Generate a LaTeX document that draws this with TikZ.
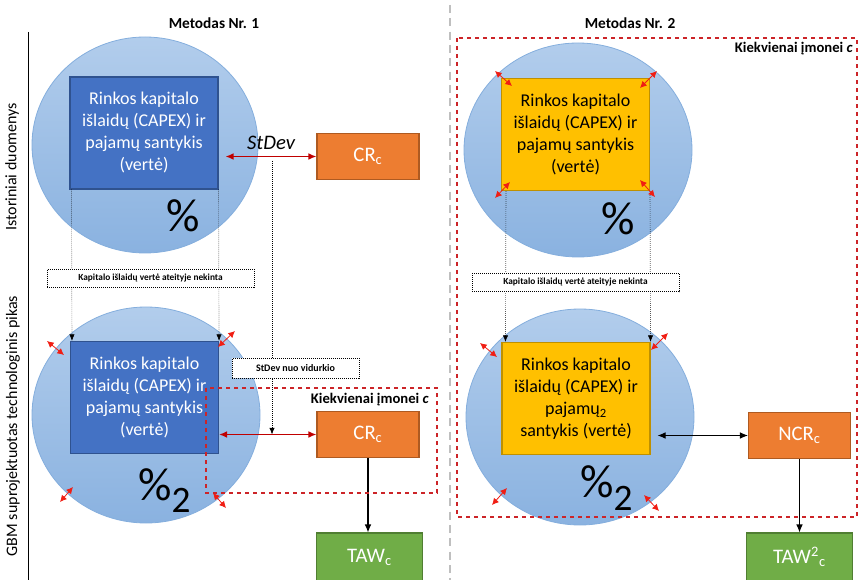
\documentclass[tikz,border=0pt]{standalone}
\usepackage{fontspec}
\setmainfont{Carlito}
\usepackage{tikz}
\usetikzlibrary{shapes,shapes.geometric,calc,arrows.meta}

\definecolor{bubbletop}{RGB}{178,205,236}
\definecolor{bubblebot}{RGB}{138,178,224}
\definecolor{bubbleedge}{RGB}{132,174,221}
\definecolor{blueface}{RGB}{68,114,196}
\definecolor{blueedge}{RGB}{47,82,143}
\definecolor{goldface}{RGB}{255,192,0}
\definecolor{goldedge}{RGB}{191,144,0}
\definecolor{orangeface}{RGB}{237,125,49}
\definecolor{orangeedge}{RGB}{174,90,33}
\definecolor{greenface}{RGB}{112,173,71}
\definecolor{greenedge}{RGB}{80,126,50}
\definecolor{dashred}{RGB}{204,36,40}
\definecolor{darkred}{RGB}{192,0,0}
\definecolor{growred}{RGB}{240,30,20}

\begin{document}
\begin{tikzpicture}[x=0.75pt,y=-0.75pt]
				\tikzstyle{bubble}=[draw=bubbleedge, top color=bubbletop, bottom color=bubblebot, line width=0.6pt]
				\tikzstyle{capex}=[rectangle, draw=blueedge, fill=blueface, text=white, line width=0.8pt, minimum width=111pt, minimum height=84pt, inner sep=0pt, align=center, font=\fontsize{13.5}{16.5}\selectfont]
				\tikzstyle{capexgold}=[capex, draw=goldedge, fill=goldface, text=black]
				\tikzstyle{crbox}=[rectangle, draw=orangeedge, fill=orangeface, text=white, line width=0.8pt, minimum width=76.5pt, minimum height=35pt, font=\fontsize{15.5}{18}\selectfont]
				\tikzstyle{tawbox}=[crbox, draw=greenedge, fill=greenface, minimum width=79pt, minimum height=36pt]
				\tikzstyle{notebox}=[rectangle, draw, densely dotted, fill=white, line width=0.5pt, inner sep=0pt, font=\bfseries\fontsize{7}{8}\selectfont]
				\tikzstyle{pct}=[anchor=base west, inner sep=0pt, font=\fontsize{35}{35}\selectfont]
				\tikzstyle{heading}=[font=\bfseries\fontsize{11.5}{14}\selectfont]
				\tikzstyle{sidelabel}=[rotate=90, font=\fontsize{12}{14}\selectfont]
				\tikzstyle{eachfirm}=[anchor=east, inner sep=0pt, font=\bfseries\fontsize{11}{13}\selectfont]
				\tikzstyle{reddash}=[draw=dashred, dashed, line width=1.1pt]
				\tikzstyle{growarrow}=[growred, line width=0.6pt, {Latex[length=5pt,width=5pt]}-{Latex[length=5pt,width=5pt]}]
				\tikzstyle{guide}=[densely dotted, line width=0.5pt, -{Latex[length=5pt,width=4pt]}]
				\tikzstyle{flowarrow}=[line width=0.8pt, -{Latex[length=6pt,width=5pt]}]
				\tikzstyle{redlink}=[darkred, line width=1pt, {Latex[length=6pt,width=5pt]}-{Latex[length=6pt,width=5pt]}]
				\useasboundingbox (0,0) rectangle (859,580);

				\coordinate (c1) at (145,145);
				\coordinate (c2) at (146,415);
				\coordinate (c3) at (578,150);
				\coordinate (c4) at (580,417);
				\draw[bubble] (c1) ellipse [x radius=113, y radius=108];
				\draw[bubble] (c2) ellipse [x radius=114, y radius=108];
				\draw[bubble] (c3) ellipse [x radius=114, y radius=107];
				\draw[bubble] (c4) ellipse [x radius=114, y radius=108];

				\draw[line width=0.6pt] (28,32) -- (28,580);
				\draw[gray!50, dash pattern=on 6pt off 4pt, line width=0.9pt] (450,5) -- (450,580);

				\node[heading] (m1) at (214,23) {Metodas Nr. 1};
				\node[heading] (m2) at (630,23) {Metodas Nr. 2};
				\node[sidelabel] (hist) at (12,167) {Istoriniai duomenys};
				\node[sidelabel] (gbm) at (13,426) {GBM suprojektuotas technologinis pikas};

				\node[capex] (r1) at (144,133) {Rinkos kapitalo\\išlaidų (CAPEX) ir\\pajamų santykis\\(vertė)};
				\node[capex] (r2) at (144.5,397.5) {Rinkos kapitalo\\išlaidų (CAPEX) ir\\pajamų santykis\\(vertė)};
				\node[capexgold] (r3) at (575.5,134.5) {Rinkos kapitalo\\išlaidų (CAPEX) ir\\pajamų santykis\\(vertė)};
				\node[capexgold] (r4) at (576,398.5) {Rinkos kapitalo\\išlaidų (CAPEX) ir\\pajamų\textsubscript{2}\\santykis (vertė)};

				\node[crbox] (cr1) at (368,156.5) {CR\textsubscript{c}};
				\node[crbox] (cr2) at (368,434.5) {CR\textsubscript{c}};
				\node[tawbox] (taw1) at (369.5,557) {TAW\textsubscript{c}};
				\node[crbox] (ncr) at (799.5,435.5) {NCR\textsubscript{c}};
				\node[tawbox] (taw2) at (799.5,557) {TAW\textsuperscript{2}\textsubscript{c}};

				\coordinate (sdtop) at (272,161);
				\draw[guide] ($(r1.south west)+(2,0)$) -- ($(r2.north west)+(2,0)$);
				\draw[guide] (r1.south east) -- (r2.north east);
				\draw[guide] ($(r3.south west)+(5,0)$) -- ($(r4.north west)+(4,0)$);
				\draw[guide] (r3.south east) -- (r4.north east);
				\draw[guide] (sdtop) -- (sdtop |- cr2.west);

				\node[notebox, minimum width=155pt, minimum height=13.5pt] (keep1) at (150.5,278) {Kapitalo išlaidų vertė ateityje nekinta};
				\node[notebox, minimum width=155pt, minimum height=14pt] (keep2) at (575.5,282.5) {Kapitalo išlaidų vertė ateityje nekinta};
				\node[notebox, minimum width=95pt, minimum height=15pt, font=\bfseries\fontsize{7.5}{9}\selectfont] (sdnote) at (295.5,368) {StDev nuo vidurkio};

				\draw[redlink] ($(r1.east |- cr1.west)+(7,0)$) -- (cr1.west) node[midway, above=1pt, text=black, font=\itshape\fontsize{15.5}{18}\selectfont] (sd) {StDev};
				\draw[redlink] (r2.east |- cr2.west) -- (cr2.west);
				\draw[line width=0.8pt, {Latex[length=6pt,width=5pt]}-{Latex[length=6pt,width=5pt]}] ($(r4.east |- ncr.west)+(7,0)$) -- (ncr.west);
				\draw[flowarrow] (cr2.south) -- (cr2.south |- taw1.north);
				\draw[flowarrow] (ncr.south) -- (ncr.south |- taw2.north);

				\node[pct] (p1) at (166,232) {\%};
				\node[pct] (p2) at (138,500) {\%\raisebox{-9pt}{\fontsize{28}{28}\selectfont 2}};
				\node[pct] (p3) at (601,235) {\%};
				\node[pct] (p4) at (580,497) {\%\raisebox{-10pt}{\fontsize{28}{28}\selectfont 2}};

				\foreach \c/\ax/\ay/\bx/\by in {c2/-99/-74/-82/-60, c2/89/-84/72/-68, c2/-86/87/-73/72, c2/67/78/80/93,
						c3/-83/-79/-66/-64, c3/79/-79/62/-62, c3/-83/48/-68/32, c3/77/47/62/30,
						c4/-100/-74/-83/-60, c4/88/-84/71/-67, c4/-88/88/-73/71, c4/64/78/79/94}
					\draw[growarrow] ($(\c)+(\ax,\ay)$) -- ($(\c)+(\bx,\by)$);

				\draw[reddash] (206,388) rectangle (437,493);
				\draw[reddash] (457,38) rectangle (857,517);
				\node[eachfirm] (ef1) at (429,400) {Kiekvienai įmonei \textit{c}};
				\node[eachfirm] (ef2) at (853,49) {Kiekvienai įmonei \textit{c}};
\end{tikzpicture}
\end{document}
